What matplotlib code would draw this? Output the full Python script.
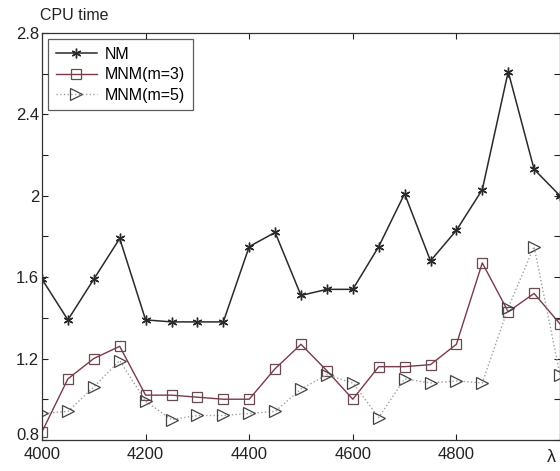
import numpy as np
import matplotlib
matplotlib.use("Agg")
import matplotlib.pyplot as plt
import matplotlib.transforms as mtransforms

plt.rcParams['font.family'] = ['Liberation Sans', 'DejaVu Sans']

# wavelength grid (step 50)
lam = [4000, 4050, 4100, 4150, 4200, 4250, 4300, 4350, 4400, 4450, 4500,
       4550, 4600, 4650, 4700, 4750, 4800, 4850, 4900, 4950, 5000]

nm = [1.59, 1.39, 1.59, 1.79, 1.39, 1.38, 1.38, 1.38, 1.75, 1.82, 1.51,
      1.54, 1.54, 1.75, 2.01, 1.68, 1.83, 2.03, 2.61, 2.13, 2.00]
mnm3 = [0.84, 1.10, 1.20, 1.26, 1.02, 1.02, 1.01, 1.00, 1.00, 1.15, 1.27,
        1.14, 1.00, 1.16, 1.16, 1.17, 1.27, 1.67, 1.43, 1.52, 1.37]
mnm5 = [0.93, 0.94, 1.06, 1.19, 0.99, 0.90, 0.92, 0.92, 0.93, 0.94, 1.05,
        1.12, 1.08, 0.91, 1.10, 1.08, 1.09, 1.08, 1.45, 1.75, 1.12]

xticks = [4000, 4200, 4400, 4600, 4800]
yticks = [0.8, 1.2, 1.6, 2.0, 2.4, 2.8]
ytick_labels = ['0.8', '1.2', '1.6', '2', '2.4', '2.8']

fig = plt.figure(figsize=(5.6, 4.71), dpi=100)
ax = fig.add_axes([0.075, 0.066, 0.925, 0.864])

ax.plot(lam, nm, color='#2a2a2a', lw=1.1, marker=(6, 2, 0), ms=7,
        mew=1.0, label='NM')
ax.plot(lam, mnm3, color='#7a3a48', lw=1.0, marker='s', ms=7,
        mfc='none', mec='#6a4a50', mew=0.9, label='MNM(m=3)')
ax.plot(lam, mnm5, color='#a0a0a0', lw=1.0, ls=':', marker='>', ms=9,
        mfc='none', mec='#444444', mew=0.9, label='MNM(m=5)')

ax.set_xlim(4000, 5000)
ax.set_ylim(0.8, 2.8)
ax.set_xticks(xticks)
ax.set_xticks([5000], minor=True)
ax.set_yticks(yticks)
ax.set_yticklabels(ytick_labels)
ax.set_yticks([1.0, 1.4, 1.8, 2.2, 2.6], minor=True)
ax.tick_params(which='both', direction='in', top=True, right=True,
               labelsize=12, length=4, width=0.8, colors='#222222')
ax.tick_params(axis='x', pad=5)
ax.tick_params(axis='y', pad=2)
for s in ax.spines.values():
    s.set_color('#333333')
    s.set_linewidth(0.9)

# lift the 0.8 label a little so it clears 4000, like the original
lbl = ax.get_yticklabels()[0]
lbl.set_transform(lbl.get_transform() +
                  mtransforms.ScaledTranslation(0, 4 / 72, fig.dpi_scale_trans))

leg = ax.legend(loc='upper left', fontsize=11.5, frameon=True, fancybox=False,
                edgecolor='#333333', borderpad=0.45, handlelength=2.6,
                labelspacing=0.35, borderaxespad=0.4, handletextpad=0.5)
leg.get_frame().set_linewidth(0.9)

fig.text(0.071, 0.968, 'CPU time', fontsize=11.5, ha='left', va='center',
         color='#222222')
fig.text(0.993, 0.028, 'λ', fontsize=13, ha='right', va='center',
         color='#222222')

fig.savefig('out.png', dpi=100)
